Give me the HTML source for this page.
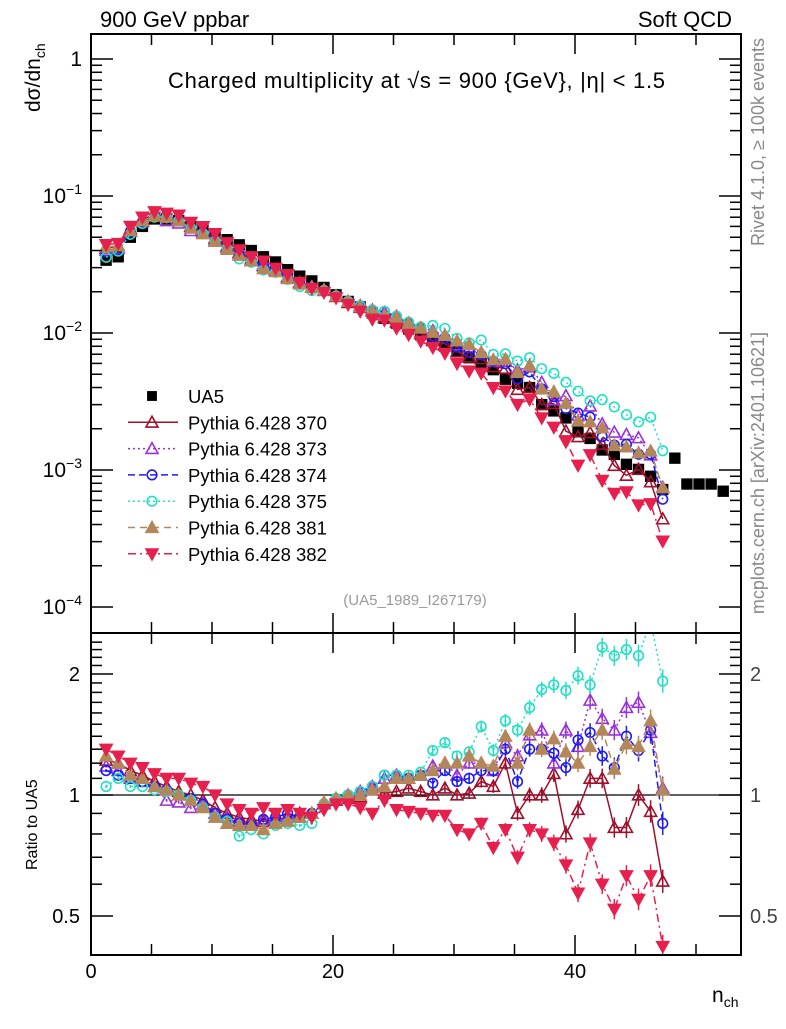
<!DOCTYPE html>
<html><head><meta charset="utf-8"><style>
body{margin:0;background:#fff}
svg text{font-family:"Liberation Sans",Arial,sans-serif}
</style></head><body>
<svg id="chart" xmlns="http://www.w3.org/2000/svg" width="786" height="1024" viewBox="0 0 786 1024">
<g id="main"></g>
<g id="ratio"></g>
<g id="axes"></g>
<g id="legend"></g>
<text x="100" y="27" font-size="22">900 GeV ppbar</text>
<text x="732" y="27" font-size="22" text-anchor="end">Soft QCD</text>
<text x="168" y="88" font-size="22" textLength="497">Charged multiplicity at √s = 900 {GeV}, |η| &lt; 1.5</text>
<text x="415" y="605" font-size="15" fill="#999" text-anchor="middle">(UA5_1989_I267179)</text>
<text transform="translate(764,38) rotate(-90)" font-size="18" fill="#888" text-anchor="end">Rivet 4.1.0, ≥ 100k events</text>
<text transform="translate(764,332) rotate(-90)" font-size="18" fill="#888" text-anchor="end">mcplots.cern.ch [arXiv:2401.10621]</text>
<text transform="translate(40,112) rotate(-90)" font-size="21">dσ/dn<tspan font-size="14" dy="5">ch</tspan></text>
<text transform="translate(37,870) rotate(-90)" font-size="16">Ratio to UA5</text>
<text x="712" y="1002" font-size="21">n<tspan font-size="14" dy="5">ch</tspan></text>
</svg>
<script>
const ua5N = [1,2,3,4,5,6,7,8,9,10,11,12,13,14,15,16,17,18,19,20,21,22,23,24,25,26,27,28,29,30,31,32,33,34,35,36,37,38,39,40,41,42,43,44,45,46,47,48,49,50,51,52];
const ua5Val = [0.034,0.036,0.050,0.060,0.068,0.068,0.066,0.060,0.057,0.053,0.048,0.044,0.040,0.036,0.033,0.029,0.026,0.024,0.0215,0.019,0.017,0.0155,0.014,0.0128,0.0118,0.0107,0.0097,0.0088,0.0080,0.0073,0.0066,0.0060,0.0054,0.0046,0.0043,0.0040,0.0030,0.0027,0.0024,0.0019,0.0017,0.0014,0.0013,0.0011,0.00101,0.00090,0.00072,0.00122,0.00079,0.00079,0.00079,0.00070];
const r370 = [1.22,1.2,1.15,1.12,1.08,1.05,1.02,1.0,0.97,0.93,0.9,0.88,0.87,0.86,0.87,0.88,0.9,0.9,0.95,0.97,0.98,0.99,1.03,1.01,1.02,1.04,1.02,1.0,1.04,1.0,1.01,1.08,1.05,1.2,0.9,1.0,1.0,1.13,0.8,0.92,1.1,1.1,0.83,0.83,1.0,0.91,0.61];
const r373 = [1.18,1.15,1.1,1.08,1.05,0.97,0.96,0.93,0.95,0.9,0.88,0.86,0.85,0.87,0.88,0.89,0.88,0.9,0.95,0.98,1.0,1.02,1.05,1.1,1.12,1.1,1.12,1.18,1.2,1.12,1.2,1.2,1.15,1.35,1.25,1.41,1.45,1.2,1.45,1.32,1.72,1.55,1.45,1.65,1.7,1.43,1.04];
const r374 = [1.15,1.12,1.1,1.08,1.05,1.03,1.0,0.98,0.95,0.9,0.87,0.85,0.84,0.87,0.88,0.9,0.88,0.9,0.95,0.98,1.0,1.02,1.05,1.12,1.12,1.1,1.12,1.07,1.15,1.08,1.1,1.15,1.15,1.3,1.08,1.3,1.3,1.27,1.17,1.37,1.43,1.25,1.17,1.4,1.29,1.45,0.85];
const r375 = [1.05,1.1,1.05,1.05,1.03,1.02,1.0,0.97,0.93,0.88,0.86,0.79,0.82,0.8,0.84,0.85,0.84,0.85,0.95,0.98,1.0,1.02,1.05,1.12,1.12,1.12,1.14,1.29,1.35,1.25,1.28,1.48,1.29,1.53,1.45,1.65,1.83,1.88,1.82,1.98,1.88,2.33,2.22,2.3,2.22,2.7,1.92];
const r381 = [1.25,1.2,1.12,1.1,1.05,1.03,1.0,0.97,0.93,0.88,0.85,0.84,0.84,0.82,0.85,0.86,0.88,0.9,0.96,0.98,1.0,1.0,1.03,1.05,1.1,1.1,1.12,1.15,1.2,1.2,1.25,1.2,1.18,1.4,1.2,1.45,1.3,1.38,1.28,1.2,1.32,1.45,1.16,1.34,1.32,1.53,1.03];
const r382 = [1.3,1.25,1.2,1.17,1.13,1.1,1.1,1.07,1.05,1.0,0.95,0.92,0.9,0.93,0.9,0.92,0.9,0.88,0.92,0.95,0.95,0.93,0.9,0.97,0.92,0.91,0.9,0.89,0.89,0.82,0.8,0.85,0.74,0.82,0.7,0.82,0.8,0.76,0.67,0.57,0.76,0.6,0.52,0.63,0.55,0.63,0.42];
const seriesNames = ["Pythia 6.428 370","Pythia 6.428 373","Pythia 6.428 374","Pythia 6.428 375","Pythia 6.428 381","Pythia 6.428 382"];
const xTicks = [0,20,40];
const yTickExp = [0,-1,-2,-3,-4];
const rTicks = [2,1,0.5];

const NS="http://www.w3.org/2000/svg";
const L=91,R=741,T=34,MID=633,B=955;
const X0=0,XPX=12.1;
function xs(n){return L+(n+0.25-X0)*XPX;}
function xa(v){return L+(v-X0)*XPX;}
function ys(v){return 59-137*Math.log10(v);}
function yr(r){return 795-402*Math.log10(r);}
function mk(tag,attrs,parent){const e=document.createElementNS(NS,tag);for(const k in attrs)e.setAttribute(k,attrs[k]);parent.appendChild(e);return e;}

const styles=[
 {data:r370,color:"#a0102c",marker:"tri",fill:false,dash:""},
 {data:r373,color:"#9b30d9",marker:"tri",fill:false,dash:"2,3"},
 {data:r374,color:"#1c1cf0",marker:"circ",fill:false,dash:"7,4"},
 {data:r375,color:"#22e0c4",marker:"circ",fill:false,dash:"2,3"},
 {data:r381,color:"#b3875a",marker:"tri",fill:true,dash:"7,5"},
 {data:r382,color:"#e6204c",marker:"dtri",fill:true,dash:"8,4,2,4"}
];

function marker(g,type,x,y,color,fill,s){
 let e;
 if(type==="tri"){e=mk("polygon",{points:`${x},${y-s} ${x-s},${y+s*0.8} ${x+s},${y+s*0.8}`},g);}
 else if(type==="dtri"){e=mk("polygon",{points:`${x},${y+s} ${x-s},${y-s*0.8} ${x+s},${y-s*0.8}`},g);}
 else if(type==="circ"){e=mk("circle",{cx:x,cy:y,r:s*0.8},g);}
 else {e=mk("rect",{x:x-s*0.75,y:y-s*0.75,width:s*1.5,height:s*1.5},g);}
 e.setAttribute("fill",fill?color:"none");
 e.setAttribute("stroke",color);
 e.setAttribute("stroke-width","1.6");
 return e;
}

const main=document.getElementById("main"),ratio=document.getElementById("ratio");
const defs=mk("defs",{},document.getElementById("chart"));
const c1=mk("clipPath",{id:"cm"},defs);mk("rect",{x:L,y:T,width:R-L,height:MID-T},c1);
const c2=mk("clipPath",{id:"cr"},defs);mk("rect",{x:L,y:MID,width:R-L,height:B-MID},c2);
main.setAttribute("clip-path","url(#cm)");ratio.setAttribute("clip-path","url(#cr)");

const ref=mk("line",{x1:L,x2:R,y1:yr(1),y2:yr(1),stroke:"#000","stroke-width":1.3},ratio);



const ug=mk("g",{},main);


ua5N.forEach((n,i)=>{const e=marker(ug,"sq",xs(n),ys(ua5Val[i]),"#000",true,6.5);
 
 });

styles.forEach((st,si)=>{
 const gm=mk("g",{},main);
 
 
 const gr=mk("g",{},ratio);
 
 
 const pm=[],pr=[];
 st.data.forEach((r,i)=>{const n=ua5N[i];pm.push(xs(n)+","+ys(r*ua5Val[i]));pr.push(xs(n)+","+yr(r));});
 [[gm,pm],[gr,pr]].forEach(([g,p])=>{const pl=mk("polyline",{points:p.join(" "),fill:"none",stroke:st.color,"stroke-width":1.5},g);
  if(st.dash)pl.setAttribute("stroke-dasharray",st.dash);
  
  });
 st.data.forEach((r,i)=>{const n=ua5N[i];const x=xs(n);
  const err=n>20?(n-20)*0.25+1:1;
  const y=yr(r);
  mk("line",{x1:x,x2:x,y1:y-err*1.5,y2:y+err*1.5,stroke:st.color,"stroke-width":1.5},gr);
  const e1=marker(gm,st.marker,x,ys(r*ua5Val[i]),st.color,st.fill,6);
  
  
  const e2=marker(gr,st.marker,x,y,st.color,st.fill,6);
  
  
  if(st.marker==="circ"){mk("circle",{cx:x,cy:y,r:1,fill:st.color},gr);}
 });
});

const ax=document.getElementById("axes");
function ln(x1,y1,x2,y2,w){return mk("line",{x1,y1,x2,y2,stroke:"#000","stroke-width":w||1.5},ax);}
const fr1=mk("rect",{x:L,y:T,width:R-L,height:MID-T,fill:"none",stroke:"#000","stroke-width":2},ax);

const fr2=mk("rect",{x:L,y:MID,width:R-L,height:B-MID,fill:"none",stroke:"#000","stroke-width":2},ax);

for(let v=0;v<=53;v+=5){const x=xa(v);const big=v%20===0;const len=big?20:11;
 ln(x,T,x,T+len);ln(x,MID,x,MID-len);ln(x,MID,x,MID+len);ln(x,B,x,B-len);}
xTicks.forEach(v=>{const t=mk("text",{x:xa(v),y:978,"font-size":20,"text-anchor":"middle"},ax);t.textContent=v;
 });
yTickExp.forEach(e=>{const y=ys(Math.pow(10,e));ln(L,y,L+22,y);ln(R,y,R-22,y);
 for(let m=2;m<=9;m++){const yy=ys(m*Math.pow(10,e));if(yy>T&&yy<MID){ln(L,yy,L+11,yy);ln(R,yy,R-11,yy);}}
 const t=mk("text",{x:82,y:y+7,"font-size":21,"text-anchor":"end"},ax);
 if(e===0)t.textContent="1";else{t.textContent="10";const s=mk("tspan",{dy:-9,"font-size":14},t);s.textContent="−"+(-e);}
 });
for(let v=0.4;v<=2.5;v+=0.1){const y=yr(v);if(y<=MID||y>=B)continue;const big=[0.5,1,2].some(q=>Math.abs(q-v)<1e-6);const len=big?22:11;ln(L,y,L+len,y);ln(R,y,R-len,y);}
rTicks.forEach(v=>{const y=yr(v);
 const t=mk("text",{x:80,y:y+7,"font-size":20,"text-anchor":"end"},ax);t.textContent=v;
 
 const t2=mk("text",{x:750,y:y+7,"font-size":20,fill:"#444"},ax);t2.textContent=v;
 });

const lg=document.getElementById("legend");
const ly0=396,ldy=26.3;
{const e=marker(lg,"sq",152,ly0,"#000",true,5.5);
 
 const t=mk("text",{x:188,y:ly0+7,"font-size":18.5},lg);t.textContent="UA5";
 }
styles.forEach((st,i)=>{const y=ly0+ldy*(i+1);
 const l=mk("line",{x1:128,x2:178,y1:y,y2:y,stroke:st.color,"stroke-width":1.5},lg);
 if(st.dash)l.setAttribute("stroke-dasharray",st.dash);
 
 const e=marker(lg,st.marker,152,y,st.color,st.fill,6);
 
 const t=mk("text",{x:188,y:y+7,"font-size":18.5},lg);t.textContent=seriesNames[i];
 });
</script>
</body></html>
